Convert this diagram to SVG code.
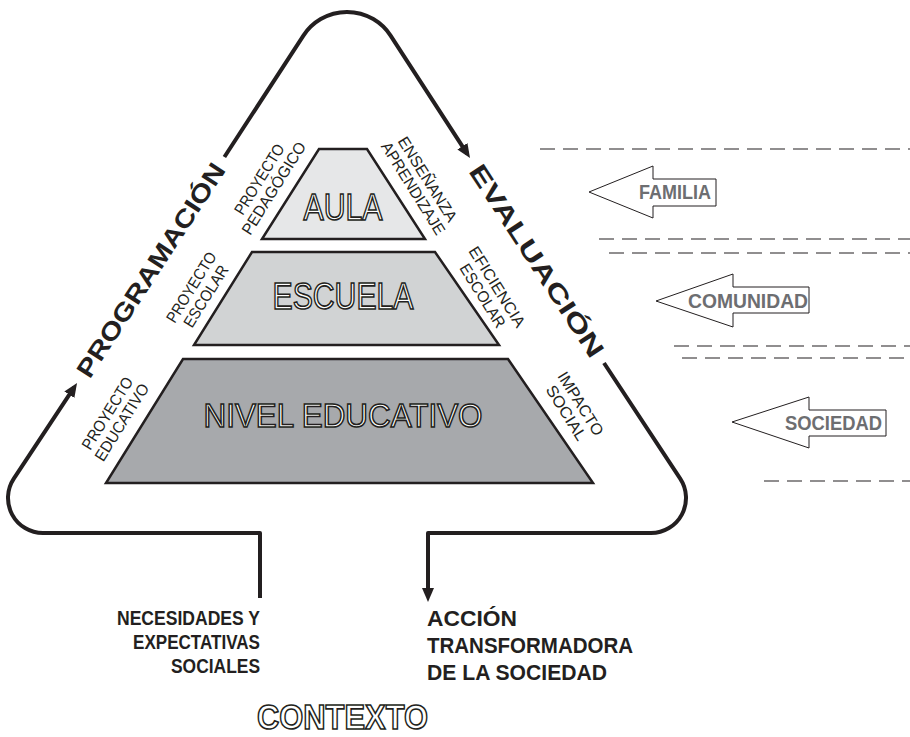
<svg xmlns="http://www.w3.org/2000/svg" width="910" height="737" viewBox="0 0 910 737">
<defs>
<marker id="ah" markerUnits="userSpaceOnUse" markerWidth="14" markerHeight="12" viewBox="0 0 14 12" refX="9" refY="6" orient="auto">
<path d="M0,0 L14,6 L0,12 Z" fill="#231f20"/>
</marker>
</defs>
<style>
.loop{fill:none;stroke:#231f20;stroke-width:4;stroke-linejoin:round}
.trap{stroke:#231f20;stroke-width:2.5;stroke-linejoin:miter}
.big{font-family:"Liberation Sans",Arial,sans-serif;fill:#fff;stroke:#231f20;stroke-width:1.6;text-anchor:middle}
.side{font-family:"Liberation Sans",Arial,sans-serif;font-size:16px;fill:#231f20;text-anchor:middle}
.loopt{font-family:"Liberation Sans",Arial,sans-serif;font-weight:bold;font-size:25px;fill:#231f20;text-anchor:middle}
.dash{stroke:#231f20;stroke-width:1.2;stroke-dasharray:15 8;fill:none}
.barrow{fill:#fff;stroke:#231f20;stroke-width:1}
.btext{font-family:"Liberation Sans",Arial,sans-serif;font-weight:bold;font-size:19.5px;fill:#6d6e71;text-anchor:middle}
.ctx{font-family:"Liberation Sans",Arial,sans-serif;font-weight:bold;fill:#231f20}
</style>
<rect width="910" height="737" fill="#fff"/>

<g id="connectors">
<path class="loop" d="M260,598 V533 H43 A35,35 0 0 1 13.8,478.7 L74.3,387.2" marker-end="url(#ah)"/>
<path class="loop" d="M224.4,157 L303.4,35.6 A52,52 0 0 1 390.6,35.6 L467.3,153.8" marker-end="url(#ah)"/>
<path class="loop" d="M604,363 L680.2,478.7 A35,35 0 0 1 651,533 H428 V597" marker-end="url(#ah)"/>
</g>

<g id="programacion">
<text class="loopt" transform="translate(150.5,270) rotate(-56.9)" x="0" y="9" textLength="250" lengthAdjust="spacingAndGlyphs">PROGRAMACIÓN</text>
</g>
<g id="evaluacion">
<text class="loopt" transform="translate(537,260.5) rotate(56.9)" x="0" y="9" textLength="225" lengthAdjust="spacingAndGlyphs">EVALUACIÓN</text>
</g>

<g id="aula">
<path class="trap" fill="#e6e7e8" d="M319,149 H367 L425,239 H262 Z"/>
<text class="big" x="343" y="220" font-size="37" textLength="79" lengthAdjust="spacingAndGlyphs">AULA</text>
</g>
<g id="escuela">
<path class="trap" fill="#d1d3d4" d="M252,252 H435 L499,345 H194 Z"/>
<text class="big" x="343" y="309" font-size="36" textLength="141" lengthAdjust="spacingAndGlyphs">ESCUELA</text>
</g>
<g id="nivel">
<path class="trap" fill="#a7a9ac" d="M183,359 H508 L593,483 H106 Z"/>
<text class="big" x="343" y="427" font-size="34" textLength="279" lengthAdjust="spacingAndGlyphs">NIVEL EDUCATIVO</text>
</g>

<g id="label-pedagogico">
<text class="side" transform="translate(267,184) rotate(-58)"><tspan x="0" y="-3.5" textLength="80" lengthAdjust="spacingAndGlyphs">PROYECTO</tspan><tspan x="0" y="13.5" textLength="106" lengthAdjust="spacingAndGlyphs">PEDAGÓGICO</tspan></text>
</g>
<g id="label-ensenanza">
<text class="side" transform="translate(420,184) rotate(58)"><tspan x="0" y="-3.5" textLength="97" lengthAdjust="spacingAndGlyphs">ENSEÑANZA</tspan><tspan x="0" y="13.5" textLength="106" lengthAdjust="spacingAndGlyphs">APRENDIZAJE</tspan></text>
</g>
<g id="label-escolar">
<text class="side" transform="translate(199,292) rotate(-58)"><tspan x="0" y="-3.5" textLength="80" lengthAdjust="spacingAndGlyphs">PROYECTO</tspan><tspan x="0" y="13.5" textLength="70" lengthAdjust="spacingAndGlyphs">ESCOLAR</tspan></text>
</g>
<g id="label-eficiencia">
<text class="side" transform="translate(489.5,291.5) rotate(58)"><tspan x="0" y="-3.5" textLength="92" lengthAdjust="spacingAndGlyphs">EFICIENCIA</tspan><tspan x="0" y="13.5" textLength="72" lengthAdjust="spacingAndGlyphs">ESCOLAR</tspan></text>
</g>
<g id="label-educativo">
<text class="side" transform="translate(115,418) rotate(-58)"><tspan x="0" y="-3.5" textLength="82" lengthAdjust="spacingAndGlyphs">PROYECTO</tspan><tspan x="0" y="13.5" textLength="88" lengthAdjust="spacingAndGlyphs">EDUCATIVO</tspan></text>
</g>
<g id="label-impacto">
<text class="side" transform="translate(573,408.5) rotate(58)"><tspan x="0" y="-3.5" textLength="72" lengthAdjust="spacingAndGlyphs">IMPACTO</tspan><tspan x="0" y="13.5" textLength="62" lengthAdjust="spacingAndGlyphs">SOCIAL</tspan></text>
</g>

<g id="dashes">
<line class="dash" x1="540" y1="149" x2="910" y2="149"/>
<line class="dash" x1="599" y1="239" x2="910" y2="239"/>
<line class="dash" x1="609" y1="253" x2="910" y2="253"/>
<line class="dash" x1="674" y1="346" x2="910" y2="346"/>
<line class="dash" x1="682" y1="358" x2="910" y2="358"/>
<line class="dash" x1="764" y1="481" x2="910" y2="481"/>
</g>

<g id="familia">
<path class="barrow" d="M589,192 L653,166 L653,179 L716,179 L716,206 L653,206 L653,218 Z"/>
<text class="btext" x="675" y="199" textLength="72" lengthAdjust="spacingAndGlyphs">FAMILIA</text>
</g>
<g id="comunidad">
<path class="barrow" d="M656,301 L733,274 L733,287 L809,287 L809,313 L733,313 L733,327 Z"/>
<text class="btext" x="748" y="308" textLength="120" lengthAdjust="spacingAndGlyphs">COMUNIDAD</text>
</g>
<g id="sociedad">
<path class="barrow" d="M732,422 L809,397 L809,410 L886,410 L886,436 L809,436 L809,448 Z"/>
<text class="btext" x="833.5" y="430" textLength="97" lengthAdjust="spacingAndGlyphs">SOCIEDAD</text>
</g>

<g id="necesidades">
<text class="ctx" font-size="19.5" text-anchor="end" x="260" y="625" textLength="143" lengthAdjust="spacingAndGlyphs">NECESIDADES Y</text>
<text class="ctx" font-size="19.5" text-anchor="end" x="260" y="649" textLength="127" lengthAdjust="spacingAndGlyphs">EXPECTATIVAS</text>
<text class="ctx" font-size="19.5" text-anchor="end" x="260" y="673" textLength="89" lengthAdjust="spacingAndGlyphs">SOCIALES</text>
</g>
<g id="accion">
<text class="ctx" font-size="22" x="427" y="626" textLength="90" lengthAdjust="spacingAndGlyphs">ACCIÓN</text>
<text class="ctx" font-size="22" x="427" y="653" textLength="206" lengthAdjust="spacingAndGlyphs">TRANSFORMADORA</text>
<text class="ctx" font-size="22" x="427" y="680" textLength="180" lengthAdjust="spacingAndGlyphs">DE LA SOCIEDAD</text>
</g>
<g id="contexto">
<text class="big" x="342.5" y="729" font-size="35" font-weight="bold" stroke-width="1.5" textLength="171" lengthAdjust="spacingAndGlyphs">CONTEXTO</text>
</g>
</svg>
